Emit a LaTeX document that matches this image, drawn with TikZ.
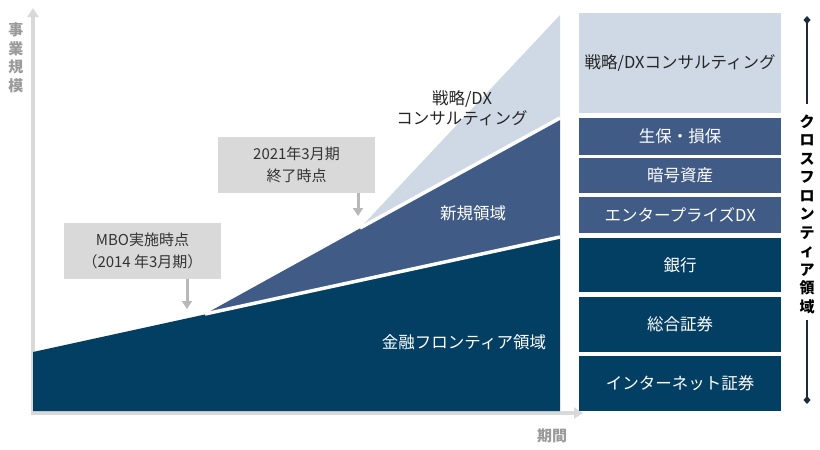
\documentclass[tikz,border=0pt]{standalone}
\usepackage{fontspec}
\setmainfont{Noto Sans CJK JP}
\usetikzlibrary{arrows.meta,positioning,calc}
\definecolor{navy}{HTML}{033F63}
\definecolor{midblue}{HTML}{3F5B86}
\definecolor{paleblue}{HTML}{CFD9E5}
\definecolor{axisgray}{HTML}{D9D9D9}
\definecolor{labelgray}{HTML}{9A9A9A}
\definecolor{bracketnavy}{HTML}{1B2A3F}

\begin{document}
\begin{tikzpicture}[x=1pt, y=-1pt,
    every node/.style={font=\fontsize{16.5}{20}\selectfont, inner sep=0pt},
    segbox/.style={rectangle, minimum width=202pt, anchor=north west, text=white},
    callout/.style={rectangle, fill=axisgray, minimum width=157pt, minimum height=56pt, align=center, font=\fontsize{15}{22}\selectfont, text=black!80},
    axis/.style={draw=axisgray, line width=3.5pt, -{Triangle[length=9pt,width=11pt]}},
    pointer/.style={draw=axisgray!85!black, line width=3pt, -{Triangle[length=8pt,width=10pt]}},
    gap/.style={draw=white, line width=3.5pt}]
      \useasboundingbox (0,0) rectangle (820,450);

      % axes
      \draw[axis] (33,415) -- (33,8);
      \draw[axis] (31,413) -- (583,413);
      \node[font=\bfseries\fontsize{15}{18.5}\selectfont, text=labelgray, align=center] (ylabel) at (16,58) {事\\業\\規\\模};
      \node[font=\bfseries\fontsize{15}{18}\selectfont, text=labelgray] (xlabel) at (552,436) {期間};

      % growth wedges
      \fill[navy] (33,352) -- (560,237) -- (560,411) -- (33,411) -- cycle;
      \fill[midblue] (205,314) -- (560,118) -- (560,237) -- cycle;
      \fill[paleblue] (360,228) -- (560,15) -- (560,118) -- cycle;
      \draw[gap] (205,314) -- (560,237);
      \draw[gap] (360,228) -- (560,118);
      \node[align=center, text=black!85] (dxlabel) at (462,108) {戦略/DX\\コンサルティング};
      \node[text=white] (newlabel) at (473,213) {新規領域};
      \node[text=white] (finlabel) at (464,342) {金融フロンティア領域};

      % milestones
      \node[callout] (mbo) at (142.5,251) {MBO実施時点\\（2014 年3月期）};
      \node[callout] (fy21) at (296.5,165) {2021年3月期\\終了時点};
      \coordinate (mboTip) at (187,309);
      \coordinate (fy21Tip) at (358,216);
      \draw[pointer] (mbo.south -| mboTip) -- (mboTip);
      \draw[pointer] (fy21.south -| fy21Tip) -- (fy21Tip);

      % business segments
      \node[segbox, fill=paleblue, minimum height=100pt, text=black!85] (consult) at (579,13) {戦略/DXコンサルティング};
      \foreach \y/\h/\name/\txt in {118/37/life/生保・損保, 158/35/crypto/暗号資産, 197/36/ent/エンタープライズDX} {
        \node[segbox, fill=midblue, minimum height=\h pt] (\name) at (579,\y) {\txt};
      }
      \foreach \y/\h/\name/\txt in {238/54/bank/銀行, 297/55/sec/総合証券, 356/55/net/インターネット証券} {
        \node[segbox, fill=navy, minimum height=\h pt] (\name) at (579,\y) {\txt};
      }

      % cross frontier bracket
      \node[font=\bfseries\fontsize{15}{18.5}\selectfont, align=center, text=black] (cross) at (807,214) {ク\\ロ\\ス\\フ\\ロ\\ン\\テ\\ィ\\ア\\領\\域};
      \coordinate (crossTop) at (807,16);
      \coordinate (crossBot) at (807,404);
      \draw[bracketnavy, line width=1.6pt, shorten <=10pt, -{Diamond[length=8pt,width=7pt]}] (cross.north) -- (crossTop);
      \draw[bracketnavy, line width=1.6pt, shorten <=6pt, -{Diamond[length=8pt,width=7pt]}] (cross.south) -- (crossBot);
    \end{tikzpicture}
\end{document}
